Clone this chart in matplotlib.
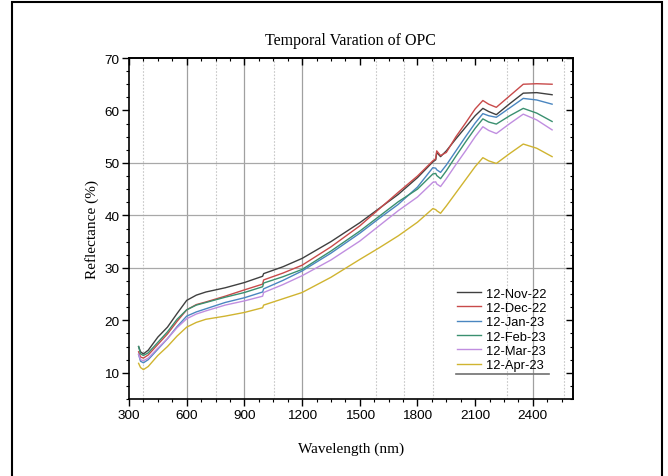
import matplotlib
matplotlib.use("Agg")
import matplotlib.pyplot as plt
from matplotlib.patches import Rectangle
from matplotlib.lines import Line2D
from matplotlib.ticker import MultipleLocator, NullFormatter

# ---- data ----
wavelength = [350, 360, 375, 400, 450, 500, 550, 600, 650, 700, 800, 900, 995, 1000,
              1100, 1200, 1350, 1500, 1600, 1700, 1800, 1880, 1895, 1900, 1920, 1950,
              2000, 2050, 2100, 2140, 2170, 2210, 2280, 2350, 2420, 2500]

nov_22 = [15.0, 14.0, 13.6, 14.3, 16.8, 18.7, 21.3, 23.8, 24.8, 25.4, 26.2, 27.2, 28.4, 28.9,
          30.2, 31.8, 35.0, 38.6, 41.3, 44.0, 47.2, 50.2, 50.6, 52.0, 51.2, 52.3,
          54.6, 56.8, 59.0, 60.4, 59.8, 59.2, 61.3, 63.3, 63.4, 63.0]
dec_22 = [14.0, 13.0, 12.8, 13.4, 15.4, 17.4, 19.8, 22.0, 23.0, 23.5, 24.6, 25.8, 26.9, 27.7,
          29.0, 30.5, 34.0, 38.0, 41.2, 44.4, 47.5, 50.4, 50.8, 52.3, 51.4, 52.0,
          55.0, 57.6, 60.3, 61.9, 61.2, 60.6, 62.8, 65.0, 65.1, 65.0]
jan_23 = [13.5, 12.2, 11.9, 12.5, 14.5, 16.5, 18.8, 20.8, 21.6, 22.2, 23.4, 24.3, 25.4, 26.0,
          27.6, 29.4, 32.8, 36.6, 39.4, 42.1, 45.4, 49.1, 49.0, 48.7, 48.2, 49.6,
          52.3, 55.0, 57.6, 59.4, 59.0, 58.7, 60.5, 62.3, 62.0, 61.2]
feb_23 = [15.0, 13.6, 13.3, 13.8, 15.8, 17.8, 20.2, 22.0, 22.9, 23.4, 24.4, 25.3, 26.4, 27.1,
          28.3, 29.7, 33.2, 37.0, 39.8, 42.6, 45.0, 47.9, 48.0, 47.6, 47.0, 48.5,
          51.3, 54.0, 56.6, 58.4, 57.8, 57.4, 59.0, 60.4, 59.5, 57.9]
mar_23 = [13.5, 12.5, 12.3, 12.8, 14.7, 16.5, 18.6, 20.3, 21.2, 21.8, 22.9, 23.7, 24.6, 25.3,
          26.8, 28.5, 31.5, 35.1, 38.0, 40.9, 43.5, 46.3, 46.4, 46.0, 45.5, 47.0,
          49.7, 52.3, 55.0, 56.9, 56.2, 55.6, 57.5, 59.3, 58.2, 56.3]
apr_23 = [11.8, 11.0, 10.6, 11.2, 13.3, 15.0, 17.0, 18.7, 19.6, 20.2, 20.8, 21.5, 22.4, 22.9,
          24.1, 25.3, 28.2, 31.6, 33.8, 36.1, 38.7, 41.3, 41.1, 40.9, 40.4, 41.8,
          44.3, 46.8, 49.3, 51.0, 50.4, 49.9, 51.8, 53.6, 52.8, 51.2]

labels = ["12-Nov-22", "12-Dec-22", "12-Jan-23", "12-Feb-23", "12-Mar-23", "12-Apr-23"]
series = [nov_22, dec_22, jan_23, feb_23, mar_23, apr_23]
colors = ["#404040", "#c84a4a", "#4a86c0", "#3a9070", "#c08ee0", "#d0b430"]

x_ticks = [300, 600, 900, 1200, 1500, 1800, 2100, 2400]
y_ticks = [10, 20, 30, 40, 50, 60, 70]
solid_vgrid = [600, 900, 1200, 2400]
dotted_vgrid = [375, 755, 1055, 1585, 1730, 1880, 2265, 2560]
solid_hgrid = [30, 40, 50]

# ---- figure ----
fig = plt.figure(figsize=(6.68, 4.77), dpi=100)
ax = fig.add_axes([0.1931, 0.1614, 0.6642, 0.7149])

for v in solid_vgrid:
    ax.axvline(v, color="#a0a0a0", lw=0.9, zorder=0)
for v in dotted_vgrid:
    ax.axvline(v, color="#c8c8c8", lw=0.8, ls=(0, (1.5, 1.5)), zorder=0)
for h in solid_hgrid:
    ax.axhline(h, color="#a8a8a8", lw=0.9, zorder=0)

for ys, lab, c in zip(series, labels, colors):
    ax.plot(wavelength, ys, color=c, lw=1.0, label=lab)

ax.set_xlim(300, 2607)
ax.set_ylim(5, 70)
ax.set_xticks(x_ticks)
ax.set_yticks(y_ticks)
ax.xaxis.set_minor_locator(MultipleLocator(75))
ax.yaxis.set_minor_locator(MultipleLocator(2.5))

tick_font = "Liberation Sans"
for lab in ax.get_xticklabels() + ax.get_yticklabels():
    lab.set_fontfamily(tick_font)
    lab.set_fontsize(9.7)

ax.tick_params(axis="both", which="major", direction="out", length=5, width=1.0, pad=2)
ax.tick_params(axis="both", which="minor", direction="out", length=2.5, width=0.8)

# inward ticks on top and right
secx = ax.secondary_xaxis("top")
secx.set_xticks(x_ticks)
secx.xaxis.set_minor_locator(MultipleLocator(75))
secx.xaxis.set_major_formatter(NullFormatter())
secx.tick_params(which="major", direction="in", length=5, width=1.0)
secx.tick_params(which="minor", direction="in", length=2.5, width=0.8)
secy = ax.secondary_yaxis("right")
secy.set_yticks(y_ticks)
secy.yaxis.set_minor_locator(MultipleLocator(2.5))
secy.yaxis.set_major_formatter(NullFormatter())
secy.tick_params(which="major", direction="in", length=5, width=1.0)
secy.tick_params(which="minor", direction="in", length=2.5, width=0.8)
for sa in (secx, secy):
    for s in sa.spines.values():
        s.set_linewidth(1.2)

for s in ax.spines.values():
    s.set_linewidth(1.2)
    s.set_color("black")

serif = "Liberation Serif"
ax.set_title("Temporal Varation of OPC", fontfamily=serif, fontsize=11.5, pad=10)
ax.set_xlabel("Wavelength (nm)", fontfamily=serif, fontsize=11, labelpad=15)
ax.set_ylabel("Reflectance (%)", fontfamily=serif, fontsize=11, labelpad=4)

leg = ax.legend(loc="upper left", bbox_to_anchor=(0.7386, 0.327), frameon=False,
                prop={"family": tick_font, "size": 9.3}, handlelength=1.9,
                handletextpad=0.4, labelspacing=0.18, borderpad=0, borderaxespad=0)

ax.add_line(Line2D([0.737, 0.9466], [0.0733, 0.0733], transform=ax.transAxes,
                   color="#707070", lw=1.2, clip_on=False))

fig.patches.append(Rectangle((12 / 668, -0.01), 650 / 668, 1 - 3 / 477 + 0.01,
                             transform=fig.transFigure, fill=False, ec="black", lw=1.5))

fig.savefig("out.png", dpi=100)
